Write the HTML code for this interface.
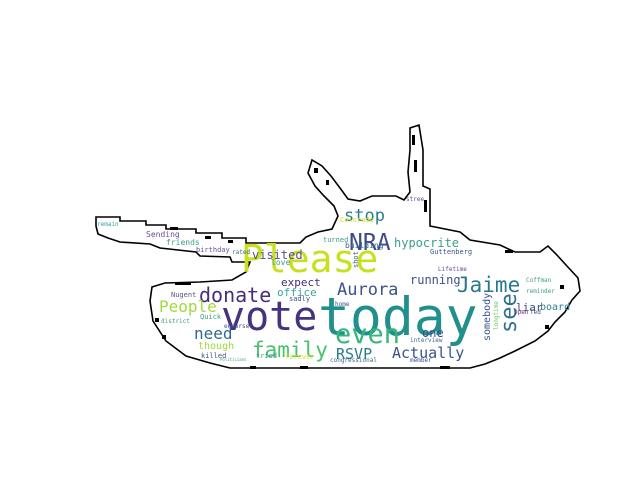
<!DOCTYPE html>
<html><head><meta charset="utf-8"><style>
html,body{margin:0;padding:0;background:#fff;width:640px;height:480px;overflow:hidden}
svg{display:block}
text{font-family:"DejaVu Sans Mono","Liberation Mono",monospace}
</style></head><body>
<svg width="640" height="480" viewBox="0 0 640 480">
<g fill="none" stroke="#000" stroke-width="1.6" stroke-linejoin="miter">
<path d="M96,217 L120,217 L120,221 L146,221 L146,225 L166,225 L166,229 L196,229 L196,233 L222,233 L222,238 L246,238 L246,243 L300,243 L306,237 L318,232 L332,229 L338,216 L334,206 L324,196 L315,186 L308,173 L312,160 L322,166 L331,176 L340,188 L348,199 L360,201 L372,196 L396,196 L404,200 L410,192 L408,172 L410,150 L410,128 L419,125 L423,150 L423,186 L430,189 L430,226 L460,232 L470,240 L500,245 L515,252 L540,252 L548,246 L556,254 L566,265 L578,278 L580,291 L572,300 L565,312 L555,322 L548,331 L535,341 L515,351 L500,358 L485,364 L470,368 L230,368 L210,363 L186,356 L166,341 L153,321 L150,301 L152,287 L165,283 L200,282 L232,280 L246,272 L250,262 L232,262 L230,257 L200,256 L196,252 L160,248 L150,244 L120,242 L108,238 L98,234 L96,226 Z"/>
</g>
<g fill="#000">
<rect x="170" y="227" width="8" height="3"/><rect x="205" y="236" width="6" height="3"/><rect x="228" y="240" width="5" height="3"/>
<rect x="314" y="168" width="4" height="5"/><rect x="326" y="180" width="3" height="5"/><rect x="412" y="135" width="3" height="10"/>
<rect x="414" y="160" width="3" height="12"/><rect x="424" y="200" width="3" height="12"/><rect x="505" y="250" width="8" height="3"/>
<rect x="560" y="285" width="4" height="4"/><rect x="545" y="325" width="4" height="4"/><rect x="300" y="366" width="8" height="3"/>
<rect x="155" y="318" width="4" height="4"/><rect x="162" y="335" width="4" height="4"/><rect x="175" y="283" width="16" height="2"/>
<rect x="440" y="366" width="10" height="3"/><rect x="250" y="366" width="6" height="3"/>
</g>
<g>
<text x="318" y="335" font-size="53" fill="#21908d">today</text>
<text x="221" y="330" font-size="40" fill="#46327e">vote</text>
<text x="241" y="272" font-size="38" fill="#c8e020">Please</text>
<text x="335" y="343" font-size="27" fill="#35b779">even</text>
<text x="252" y="357" font-size="21" fill="#4ac16d">family</text>
<text x="199" y="302" font-size="20" fill="#472d7b">donate</text>
<text x="337" y="295" font-size="17" fill="#3b528b">Aurora</text>
<text x="457" y="292" font-size="21" fill="#2a788e">Jaime</text>
<text transform="translate(516,333) rotate(-90)" font-size="22" fill="#2c728e">see</text>
<text x="349" y="250" font-size="23" fill="#3e4989">NRA</text>
<text x="344" y="221" font-size="17" fill="#277f8e">stop</text>
<text x="159" y="312" font-size="16" fill="#a0da39">People</text>
<text x="194" y="339" font-size="16" fill="#31688e">need</text>
<text x="336" y="359" font-size="15" fill="#2a788e">RSVP</text>
<text x="392" y="358" font-size="15" fill="#3b528b">Actually</text>
<text x="394" y="247" font-size="12" fill="#3aa08a">hypocrite</text>
<text x="277" y="296" font-size="11" fill="#38a8a0">office</text>
<text x="281" y="286" font-size="11" fill="#472c7a">expect</text>
<text x="252" y="259" font-size="12" fill="#5b4f8b">visited</text>
<text x="410" y="284" font-size="12" fill="#3b528b">running</text>
<text x="422" y="337" font-size="12" fill="#3e4989">one</text>
<text transform="translate(490,341) rotate(-90)" font-size="10" fill="#3b528b">somebody</text>
<text x="198" y="349" font-size="10" fill="#a0da39">though</text>
<text x="516" y="311" font-size="11" fill="#3e4a89">liar</text>
<text x="540" y="310" font-size="10" fill="#2c7f8e">board</text>
<text x="146" y="237" font-size="8" fill="#6a4a9b">Sending</text>
<text x="166" y="245" font-size="8" fill="#3aa08a">friends</text>
<text x="196" y="252" font-size="7" fill="#6b4f9b">birthday</text>
<text x="97" y="226" font-size="6" fill="#35a0a0">remain</text>
<text x="171" y="297" font-size="7" fill="#5b4f8b">Nugent</text>
<text x="200" y="319" font-size="7" fill="#3aa08a">Quick</text>
<text x="161" y="323" font-size="6" fill="#3aa08a">district</text>
<text x="201" y="358" font-size="7" fill="#3b528b">killed</text>
<text x="256" y="358" font-size="7" fill="#3aa08a">tried</text>
<text x="285" y="359" font-size="7" fill="#d5e21a">forever</text>
<text x="345" y="248" font-size="8" fill="#3b6a8b">building</text>
<text x="323" y="242" font-size="7" fill="#3aa08a">turned</text>
<text x="340" y="222" font-size="7" fill="#d5e21a">Colorado</text>
<text x="430" y="254" font-size="7" fill="#3b528b">Guttenberg</text>
<text x="410" y="342" font-size="6" fill="#3b6a8b">interview</text>
<text x="410" y="362" font-size="6" fill="#3b528b">member</text>
<text x="526" y="293" font-size="6" fill="#3aa08a">reminder</text>
<text x="526" y="282" font-size="6" fill="#3aa08a">Coffman</text>
<text x="514" y="314" font-size="6" fill="#6a2c7a">Open</text>
<text x="530" y="314" font-size="6" fill="#3b528b">Ted</text>
<text x="289" y="301" font-size="7" fill="#3b528b">sadly</text>
<text x="335" y="306" font-size="6" fill="#3b528b">home</text>
<text x="406" y="201" font-size="6" fill="#6a4a9b">stree</text>
<text x="438" y="271" font-size="6" fill="#6a4a9b">Lifetime</text>
<text x="271" y="265" font-size="8" fill="#3aa08a">love</text>
<text x="232" y="254" font-size="6" fill="#3b6a8b">rated</text>
<text transform="translate(358,268) rotate(-90)" font-size="7" fill="#3b6a8b">shot</text>
<text x="224" y="328" font-size="6" fill="#3b528b">endorse</text>
<text x="330" y="362" font-size="6" fill="#3b6a8b">congressional</text>
<text transform="translate(498,330) rotate(-90)" font-size="6" fill="#5ec962">longtime</text>
<text x="220" y="361" font-size="4" fill="#3aa08a">Politicians</text>
</g>
</svg>
</body></html>
